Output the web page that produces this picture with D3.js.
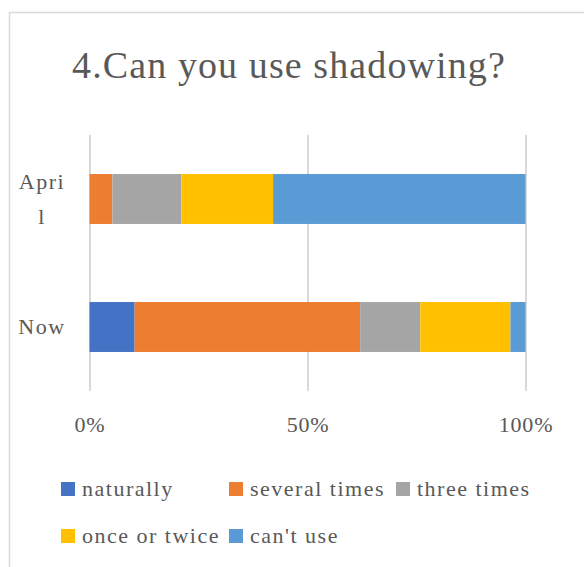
<!DOCTYPE html>
<html>
<head>
<meta charset="utf-8">
<script src="https://cdn.jsdelivr.net/npm/d3@7"></script>
<style>
  body { margin: 0; background: #fff; }
  svg text { font-family: "Liberation Serif", "DejaVu Serif", serif; fill: #595959; }
</style>
</head>
<body>
<div id="chart"></div>
<script>
  // survey answers (counts), one entry per period
  var periods = ["April", "Now"];
  var periodLines = [["Apri", "l"], ["Now"]];
  var answers = ["naturally", "several times", "three times", "once or twice", "can't use"];
  var aprilCounts = [0, 1, 3, 4, 11];
  var nowCounts = [3, 15, 4, 6, 1];
  var tickValues = [0, 0.5, 1];
  var tickLabels = ["0%", "50%", "100%"];
  var colors = ["#4472c4", "#ed7d31", "#a5a5a5", "#ffc000", "#5b9bd5"];

  var
    WIDTH = 584,
    HEIGHT = 567,
    PLOT_LEFT = 89.5,
    PLOT_RIGHT = 525.5,
    PLOT_TOP = 135,
    PLOT_BOTTOM = 391,
    GRID_COLOR = "#d9d9d9";

  var rows = [aprilCounts, nowCounts].map(function(counts, i){
    var row = { period: periods[i] };
    answers.forEach(function(a, j){ row[a] = counts[j]; });
    return row;
  });

  var series = d3.stack().keys(answers).offset(d3.stackOffsetExpand)(rows);

  var svg = d3.select("#chart").append("svg")
    .attr("width", WIDTH)
    .attr("height", HEIGHT);

  svg.append("rect")
    .attr("x", 9.5).attr("y", 12.5)
    .attr("width", 600).attr("height", 600)
    .attr("fill", "#fff")
    .attr("stroke", GRID_COLOR)
    .attr("stroke-width", 1.5);

  svg.append("text")
    .attr("x", 289).attr("y", 78)
    .attr("text-anchor", "middle")
    .attr("font-size", 38)
    .attr("letter-spacing", 1.1)
    .text("4.Can you use shadowing?");

  var x = d3.scaleLinear().domain([0, 1]).range([PLOT_LEFT, PLOT_RIGHT]);
  var y = d3.scaleBand().domain(periods).range([PLOT_TOP, PLOT_BOTTOM])
    .paddingInner(0.61).paddingOuter(0.305);

  // grid lines
  var grid = svg.append("g")
    .attr("transform", "translate(0," + PLOT_BOTTOM + ")")
    .call(d3.axisBottom(x).tickValues(tickValues)
      .tickSize(-(PLOT_BOTTOM - PLOT_TOP)).tickFormat(""));
  grid.select(".domain").remove();
  grid.selectAll(".tick line").attr("stroke", GRID_COLOR).attr("stroke-width", 2);

  // bars
  svg.append("g").selectAll("g")
    .data(series)
    .join("g")
      .attr("fill", function(d, i){ return colors[i]; })
    .selectAll("rect")
    .data(function(d){ return d; })
    .join("rect")
      .attr("x", function(d){ return x(d[0]); })
      .attr("width", function(d){ return x(d[1]) - x(d[0]); })
      .attr("y", function(d){ return y(d.data.period); })
      .attr("height", y.bandwidth());

  // x tick labels
  var xAxis = svg.append("g")
    .attr("transform", "translate(0,432)")
    .call(d3.axisBottom(x).tickValues(tickValues).tickSize(0)
      .tickFormat(function(d, i){ return tickLabels[i]; }));
  xAxis.select(".domain").remove();
  xAxis.selectAll("text")
    .attr("font-size", 22)
    .attr("letter-spacing", 0.8)
    .attr("font-family", null)
    .attr("fill", null)
    .attr("y", 0)
    .attr("dy", 0);

  // category labels (wrapped like the original)
  periods.forEach(function(p, i){
    var lines = periodLines[i];
    var cy = y(p) + y.bandwidth() / 2;
    var lineH = 35;
    var start = cy - (lines.length - 1) * lineH / 2 + 7;
    lines.forEach(function(l, k){
      svg.append("text")
        .attr("x", 42)
        .attr("y", start + k * lineH)
        .attr("text-anchor", "middle")
        .attr("font-size", 22)
        .attr("letter-spacing", 1.5)
        .text(l);
    });
  });

  // legend
  var legendPos = [[61, 489], [229, 489], [396, 489], [61, 536], [229, 536]];
  var legend = svg.append("g").selectAll("g")
    .data(answers)
    .join("g")
      .attr("transform", function(d, i){
        return "translate(" + legendPos[i][0] + "," + legendPos[i][1] + ")";
      });
  legend.append("rect")
    .attr("x", 0).attr("y", -7)
    .attr("width", 14).attr("height", 14)
    .attr("fill", function(d, i){ return colors[i]; });
  legend.append("text")
    .attr("x", 21).attr("y", 7)
    .attr("font-size", 22)
    .attr("letter-spacing", 1.5)
    .text(function(d){ return d; });
</script>
</body>
</html>
